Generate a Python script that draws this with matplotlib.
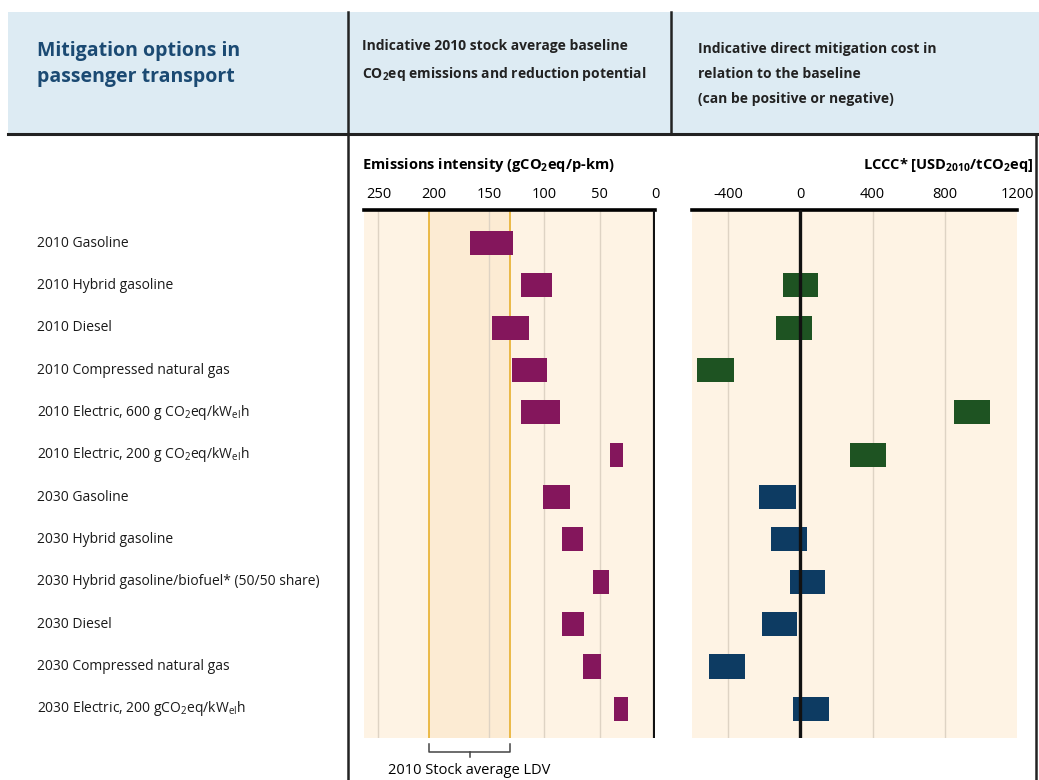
import matplotlib
matplotlib.use("Agg")
import matplotlib.pyplot as plt
import matplotlib.transforms as mtransforms
from matplotlib.patches import Rectangle

plt.rcParams["font.family"] = ["Open Sans", "DejaVu Sans"]
plt.rcParams["mathtext.fontset"] = "custom"
plt.rcParams["mathtext.rm"] = "Open Sans"
plt.rcParams["mathtext.it"] = "Open Sans"
plt.rcParams["mathtext.bf"] = "Open Sans:bold"

# ---- data ----
options = [
    "2010 Gasoline",
    "2010 Hybrid gasoline",
    "2010 Diesel",
    "2010 Compressed natural gas",
    r"2010 Electric, 600 g CO$_2$eq/kW$_\mathrm{el}$h",
    r"2010 Electric, 200 g CO$_2$eq/kW$_\mathrm{el}$h",
    "2030 Gasoline",
    "2030 Hybrid gasoline",
    "2030 Hybrid gasoline/biofuel* (50/50 share)",
    "2030 Diesel",
    "2030 Compressed natural gas",
    r"2030 Electric, 200 gCO$_2$eq/kW$_\mathrm{el}$h",
]
emis_low = [128, 93, 114, 98, 86, 29, 77, 65, 42, 64, 49, 24]
emis_high = [167, 121, 147, 129, 121, 41, 101, 84, 56, 84, 65, 37]
# LCCC, no value for the 2010 gasoline baseline
cost_low = [None, -94, -133, -575, 851, 276, -227, -160, -55, -215, -508, -39]
cost_high = [None, 99, 66, -370, 1050, 475, -22, 39, 138, -17, -309, 160]
stock_ldv = (131, 204)

emis_ticks = [250, 200, 150, 100, 50, 0]
emis_grid = [250, 150, 100, 50]
cost_ticks = [-400, 0, 400, 800, 1200]
cost_grid = [-400, 400, 800]

W, H = 1039, 780
PURPLE = "#84165C"
GREEN = "#1E5322"
BLUE = "#0D3B62"
BEIGE = "#FEF3E4"
BEIGE_DARK = "#FCEBD3"
GRID = "#DED3C4"
YELLOW = "#E9B43A"
HEAD_BG = "#DDEBF3"
HEAD_TXT = "#1B4A73"

fig = plt.figure(figsize=(W / 100, H / 100), dpi=100)


def fx(px):
    return px / W


def fy(py):
    return 1 - py / H


def pax(x0, y0, x1, y1):
    return fig.add_axes([fx(x0), fy(y1), fx(x1) - fx(x0), (y1 - y0) / H])


# header band and frame lines
bg = fig.add_axes([0, 0, 1, 1])
bg.set_xlim(0, W)
bg.set_ylim(H, 0)
bg.axis("off")
bg.add_patch(Rectangle((8, 12), W - 8, 122, facecolor=HEAD_BG, edgecolor="none"))
bg.plot([8, W], [134, 134], color="#222222", lw=2.2)
bg.plot([348, 348], [12, H], color="#222222", lw=1.8)
bg.plot([671, 671], [12, 134], color="#222222", lw=1.8)
bg.plot([1036, 1036], [134, H], color="#222222", lw=1.8)

bg.text(37, 64, "Mitigation options in\npassenger transport", fontsize=14, fontweight="bold",
        color=HEAD_TXT, va="center", ha="left", linespacing=1.4)
bg.text(362, 61, "Indicative 2010 stock average baseline\n"
        r"CO$_\mathbf{2}$eq emissions and reduction potential",
        fontsize=10, fontweight="bold", color="#222222", va="center", linespacing=1.95)
bg.text(698, 74, "Indicative direct mitigation cost in\nrelation to the baseline\n"
        "(can be positive or negative)",
        fontsize=10, fontweight="bold", color="#222222", va="center", linespacing=2.0)

# ---- left panel: emissions intensity ----
ax1 = pax(364, 210, 655, 738)
ax2 = pax(692, 210, 1017, 738)
n = len(options)
rows = list(range(n))

for ax in (ax1, ax2):
    ax.set_facecolor(BEIGE)
    ax.set_ylim(n - 1 + 0.69, -0.78)
    ax.set_yticks([])
    for s in ("left", "right", "bottom"):
        ax.spines[s].set_visible(False)
    ax.spines["top"].set_linewidth(2.6)
    ax.xaxis.tick_top()
    ax.tick_params(axis="x", length=0, pad=6, labelsize=10.5)

ax1.set_xlim(263, 0)
ax1.set_xticks(emis_ticks)
ax1.axvspan(stock_ldv[0], stock_ldv[1], color=BEIGE_DARK, lw=0, zorder=0)
for g in emis_grid:
    ax1.axvline(g, color=GRID, lw=1, zorder=1)
for g in stock_ldv:
    ax1.axvline(g, color=YELLOW, lw=1.3, zorder=1)
ax1.axvline(0, color="#111111", lw=3, zorder=3)
ax1.barh(rows, [h - l for l, h in zip(emis_low, emis_high)], left=emis_low, height=0.57,
         color=PURPLE, zorder=2)
fig.text(fx(362), fy(165), r"Emissions intensity (gCO$_\mathbf{2}$eq/p-km)",
         fontsize=10.5, fontweight="bold", va="center", ha="left")

# category labels
tr = mtransforms.blended_transform_factory(fig.transFigure, ax1.transData)
for i, lab in enumerate(options):
    ax1.text(fx(37), i, lab, transform=tr, fontsize=10, va="center", ha="left",
             color="#1a1a1a", clip_on=False)

# bracket for stock average LDV
trb = mtransforms.blended_transform_factory(ax1.transData, fig.transFigure)
lo, hi = stock_ldv
mid = (lo + hi) / 2
ax1.plot([hi, hi, lo, lo], [fy(744), fy(752), fy(752), fy(744)], color="#444444", lw=1.1,
         transform=trb, clip_on=False)
ax1.plot([mid, mid], [fy(752), fy(757)], color="#444444", lw=1.1, transform=trb, clip_on=False)
ax1.text(mid, fy(771), "2010 Stock average LDV", transform=trb, fontsize=10.5, ha="center",
         va="center", clip_on=False)

# ---- right panel: mitigation cost ----
ax2.set_xlim(-600, 1200)
ax2.set_xticks(cost_ticks)
ax2.set_xticklabels([str(t) for t in cost_ticks])
for g in cost_grid:
    ax2.axvline(g, color=GRID, lw=1, zorder=1)
ax2.axvline(0, color="#111111", lw=2.4, zorder=3)
for i in rows:
    if cost_low[i] is None:
        continue
    c = GREEN if i < 6 else BLUE
    ax2.barh(i, cost_high[i] - cost_low[i], left=cost_low[i], height=0.57, color=c, zorder=2)
fig.text(fx(1033), fy(165), r"LCCC* [USD$_\mathbf{2010}$/tCO$_\mathbf{2}$eq]",
         fontsize=10.5, fontweight="bold", va="center", ha="right")

plt.savefig("out.png", dpi=100)
plt.close()
